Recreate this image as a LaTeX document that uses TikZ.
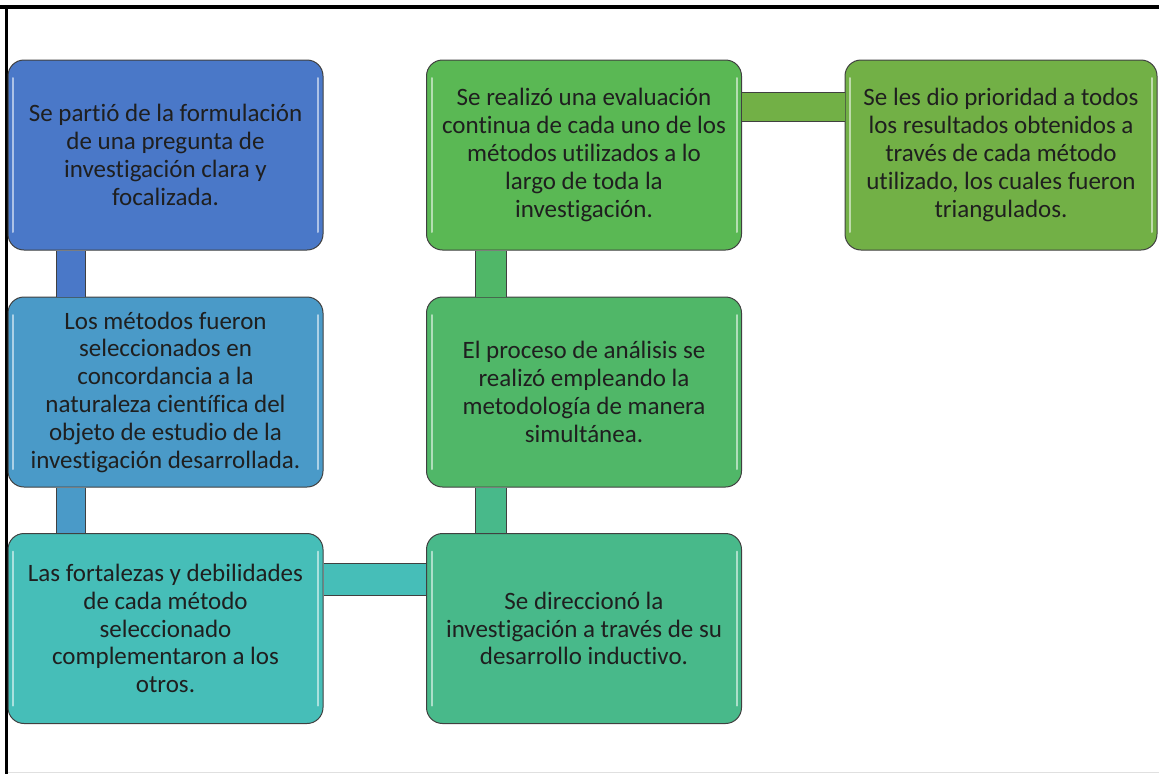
\documentclass[tikz,border=0pt]{standalone}
\usepackage{fontspec}
\setmainfont{Carlito}[Ligatures=NoCommon]
\definecolor{azulA}{RGB}{74,120,200}
\definecolor{azulB}{RGB}{74,154,200}
\definecolor{turquesa}{RGB}{70,190,184}
\definecolor{verdeA}{RGB}{72,185,138}
\definecolor{verdeB}{RGB}{80,183,104}
\definecolor{verdeC}{RGB}{90,184,84}
\definecolor{verdeD}{RGB}{114,176,70}
\begin{document}
\begin{tikzpicture}[x=1pt,y=-1pt,
        etapa/.style={draw=black!75,line width=1pt,rounded corners=16pt,minimum width=315pt,minimum height=190pt,
            inner sep=0pt,align=center,text=black!88,font=\fontsize{25}{27.8}\selectfont,
            path picture={\draw[white,opacity=.55,line width=2pt,line cap=round]
                ([xshift=5pt,yshift=-18pt]path picture bounding box.north west) -- ([xshift=5pt,yshift=18pt]path picture bounding box.south west)
                ([xshift=-5pt,yshift=-18pt]path picture bounding box.north east) -- ([xshift=-5pt,yshift=18pt]path picture bounding box.south east);}},
        enlace/.style={draw=black!75,line width=1pt,double distance=28pt}]
    \useasboundingbox (0,0) rectangle (1159,774);
    % marco
    \draw[line width=4pt] (0,7) -- (1159,7);
    \draw[line width=3pt] (6.5,5) -- (6.5,774);
    \draw[black!12,line width=1pt] (8,772.5) -- (1159,772.5);
    % columna izquierda
    \node[etapa,fill=azulA] (pregunta) at (165.5,155) {Se partió de la formulación\\de una pregunta de\\investigación clara y\\focalizada.};
    \node[etapa,fill=azulB] (metodos) at (165.5,392) {Los métodos fueron\\seleccionados en\\concordancia a la\\naturaleza científica del\\objeto de estudio de la\\investigación desarrollada.};
    \node[etapa,fill=turquesa] (fortalezas) at (165.5,628.5) {Las fortalezas y debilidades\\de cada método\\seleccionado\\complementaron a los\\otros.};
    % columna central
    \node[etapa,fill=verdeA] (direccion) at (584,628.5) {Se direccionó la\\investigación a través de su\\desarrollo inductivo.};
    \node[etapa,fill=verdeB] (analisis) at (584,392) {El proceso de análisis se\\realizó empleando la\\metodología de manera\\simultánea.};
    \node[etapa,fill=verdeC] (evaluacion) at (584,155) {Se realizó una evaluación\\continua de cada uno de los\\métodos utilizados a lo\\largo de toda la\\investigación.};
    % columna derecha
    \node[etapa,fill=verdeD,minimum width=312pt] (prioridad) at (1001,155) {Se les dio prioridad a todos\\los resultados obtenidos a\\través de cada método\\utilizado, los cuales fueron\\triangulados.};
    % enlaces
    \draw[enlace,double=azulA] ([xshift=-94.5pt]pregunta.south) -- ([xshift=-94.5pt]metodos.north);
    \draw[enlace,double=azulB] ([xshift=-94.5pt]metodos.south) -- ([xshift=-94.5pt]fortalezas.north);
    \draw[enlace,double=turquesa,double distance=31pt] ([yshift=49.5pt]fortalezas.east) -- ([yshift=49.5pt]direccion.west);
    \draw[enlace,double=verdeA,double distance=30pt] ([xshift=-93.5pt]direccion.north) -- ([xshift=-93.5pt]analisis.south);
    \draw[enlace,double=verdeB,double distance=30pt] ([xshift=-93.5pt]analisis.north) -- ([xshift=-93.5pt]evaluacion.south);
    \draw[enlace,double=verdeD] ([yshift=48pt]evaluacion.east) -- ([yshift=48pt]prioridad.west);
\end{tikzpicture}
\end{document}
